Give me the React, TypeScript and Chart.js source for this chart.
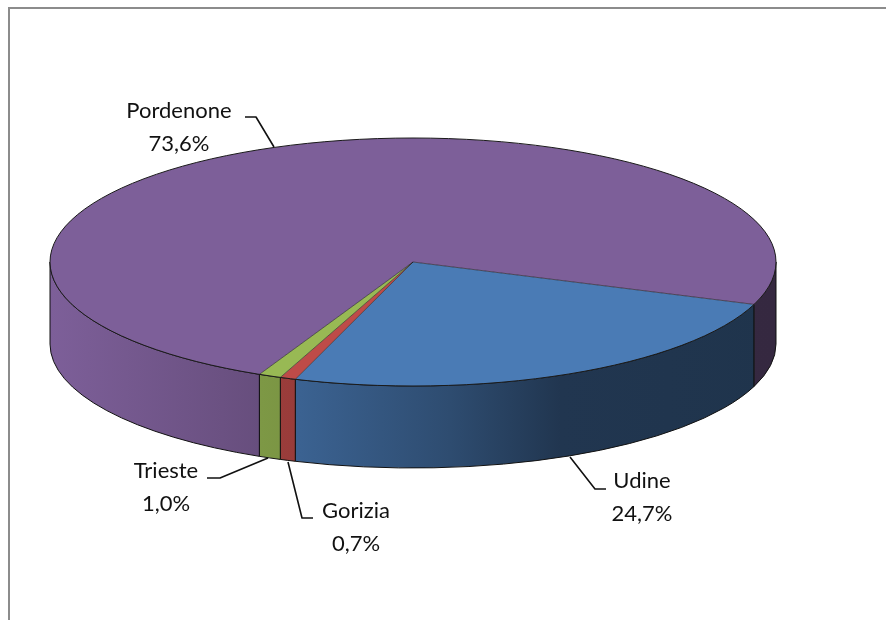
import React, { useEffect, useRef } from "react";
import { Chart, registerables } from "chart.js";

Chart.register(...registerables);

const categories = ["Udine", "Gorizia", "Trieste", "Pordenone"];
const shareValues = [24.7, 0.7, 1.0, 73.6];
const sliceColors = ["#4A7BB5", "#BE4B48", "#98B954", "#7D5F99"];

// Presentation of the flattened 3D pie
const CENTER_X = 413;
const CENTER_Y = 262;
const RADIUS = 363;
const SQUASH = 124 / 363;
const DEPTH = 82;
const ROTATION = 110;
const FONT = '22px Lato, "Noto Sans", sans-serif';
const shadeStops: [number, number][] = [
  [50, 1.0],
  [260, 0.82],
  [300, 0.8],
  [450, 0.62],
  [560, 0.44],
  [776, 0.42],
];
const labelLayout = [
  { x: 642, y: 488, line: [[570, 457], [595, 489], [606, 489]] },
  { x: 356, y: 518, line: [[288, 462], [302, 518], [313, 518]] },
  { x: 166, y: 478, line: [[268, 458], [220, 478], [207, 478]] },
  { x: 179, y: 118, line: [[274, 147], [256, 117], [245, 117]] },
];

const shade = (hex: string, f: number) => {
  const n = parseInt(hex.slice(1), 16);
  const c = [(n >> 16) & 255, (n >> 8) & 255, n & 255].map((v) => Math.round(v * f));
  return `rgb(${c[0]},${c[1]},${c[2]})`;
};

const pie3d = {
  id: "pie3d",
  beforeDraw(chart: any) {
    const { ctx, width, height } = chart;
    ctx.save();
    ctx.strokeStyle = "#8C8C8C";
    ctx.lineWidth = 2;
    ctx.beginPath();
    ctx.moveTo(9, height);
    ctx.lineTo(9, 8);
    ctx.lineTo(width, 8);
    ctx.stroke();
    ctx.restore();
  },
  beforeDatasetsDraw(chart: any) {
    const { ctx } = chart;
    const arcs = chart.getDatasetMeta(0).data;
    const ry = RADIUS * SQUASH;
    arcs.forEach((arc: any, i: number) => {
      for (let k = -1; k <= 2; k++) {
        const s = Math.max(arc.startAngle, 2 * Math.PI * k);
        const e = Math.min(arc.endAngle, 2 * Math.PI * k + Math.PI);
        if (e <= s) continue;
        const grad = ctx.createLinearGradient(50, 0, 776, 0);
        shadeStops.forEach(([x, f]) =>
          grad.addColorStop((x - 50) / 726, shade(sliceColors[i], f))
        );
        ctx.save();
        ctx.beginPath();
        ctx.ellipse(arc.x, arc.y, RADIUS, ry, 0, s, e);
        ctx.ellipse(arc.x, arc.y + DEPTH, RADIUS, ry, 0, e, s, true);
        ctx.closePath();
        ctx.fillStyle = grad;
        ctx.fill();
        ctx.strokeStyle = "#111111";
        ctx.lineWidth = 1;
        ctx.stroke();
        ctx.restore();
      }
    });
    ctx.save();
    ctx.translate(0, CENTER_Y);
    ctx.scale(1, SQUASH);
    ctx.translate(0, -CENTER_Y);
  },
  afterDatasetsDraw(chart: any) {
    const { ctx } = chart;
    ctx.restore();
    const arcs = chart.getDatasetMeta(0).data;
    const ry = RADIUS * SQUASH;
    ctx.save();
    ctx.strokeStyle = "#1A1A1A";
    ctx.lineWidth = 1;
    ctx.beginPath();
    ctx.ellipse(arcs[0].x, arcs[0].y, RADIUS, ry, 0, 0, 2 * Math.PI);
    ctx.stroke();
    ctx.lineWidth = 0.6;
    arcs.forEach((arc: any) => {
      ctx.beginPath();
      ctx.moveTo(arc.x, arc.y);
      ctx.lineTo(
        arc.x + RADIUS * Math.cos(arc.startAngle),
        arc.y + ry * Math.sin(arc.startAngle)
      );
      ctx.stroke();
    });
    ctx.restore();
  },
  afterDraw(chart: any) {
    const { ctx } = chart;
    ctx.save();
    ctx.font = FONT;
    ctx.textAlign = "center";
    ctx.textBaseline = "alphabetic";
    ctx.fillStyle = "#111111";
    ctx.strokeStyle = "#111111";
    ctx.lineWidth = 1.6;
    ctx.lineJoin = "round";
    categories.forEach((name, i) => {
      const l = labelLayout[i];
      ctx.fillText(name, l.x, l.y);
      ctx.fillText(`${shareValues[i].toFixed(1).replace(".", ",")}%`, l.x, l.y + 33);
      ctx.beginPath();
      l.line.forEach(([x, y], j) => (j ? ctx.lineTo(x, y) : ctx.moveTo(x, y)));
      ctx.stroke();
    });
    ctx.restore();
  },
};

export default function App() {
  const ref = useRef<HTMLCanvasElement>(null);
  useEffect(() => {
    const chart = new Chart(ref.current!, {
      type: "pie",
      data: {
        labels: categories,
        datasets: [
          {
            data: shareValues,
            backgroundColor: sliceColors,
            borderWidth: 0,
            clip: false,
          } as any,
        ],
      },
      options: {
        animation: false,
        responsive: false,
        radius: RADIUS,
        rotation: ROTATION,
        layout: { padding: { left: 0, top: 0, right: 886 - 2 * CENTER_X, bottom: 620 - 2 * CENTER_Y } },
        plugins: { legend: { display: false }, tooltip: { enabled: false } },
      } as any,
      plugins: [pie3d],
    });
    return () => chart.destroy();
  }, []);
  return (
    <canvas
      ref={ref}
      width={886}
      height={620}
      style={{ position: "absolute", left: 0, top: 0, display: "block" }}
    />
  );
}
